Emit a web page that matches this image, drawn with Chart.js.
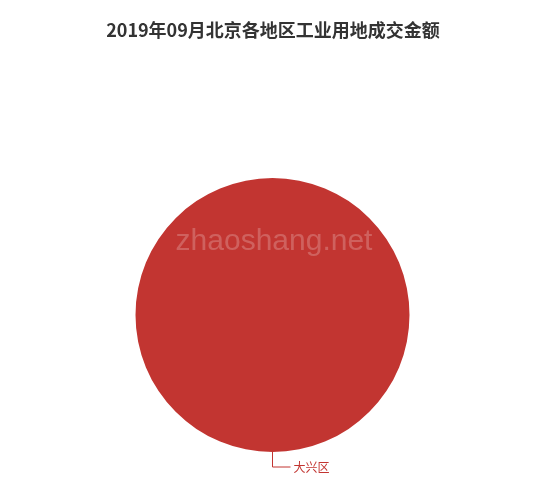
<!DOCTYPE html>
<html><head><meta charset="utf-8">
<script src="https://cdn.jsdelivr.net/npm/chart.js@4/dist/chart.umd.min.js"></script>
<style>html,body{margin:0;padding:0;background:#fff}#wrap{width:550px;height:490px}</style>
</head><body><div id="wrap"><canvas id="c" width="550" height="490"></canvas></div>
<script>
const titleText = "2019年09月北京各地区工业用地成交金额";
const categories = ["大兴区"];
const values = [100];
const colors = ["#c23531"];
const watermark = "zhaoshang.net";

const overlay = {
  id: 'overlay',
  afterDraw(chart) {
    const ctx = chart.ctx;
    ctx.save();
    // title
    ctx.fillStyle = '#333';
    ctx.font = 'bold 18px "Noto Sans CJK SC", sans-serif';
    ctx.textAlign = 'center';
    ctx.textBaseline = 'middle';
    ctx.fillText(titleText, 273, 30);
    // labels
    const meta = chart.getDatasetMeta(0);
    meta.data.forEach((arc, i) => {
      const p = arc.getProps(['x','y','startAngle','endAngle','outerRadius'], true);
      const mid = (p.startAngle + p.endAngle) / 2;
      const x0 = p.x + Math.cos(mid) * p.outerRadius;
      const y0 = p.y + Math.sin(mid) * p.outerRadius;
      const x1 = x0 + Math.cos(mid) * 15;
      const y1 = y0 + Math.sin(mid) * 15;
      const dir = Math.cos(mid) >= -1e-6 ? 1 : -1;
      const x2 = x1 + dir * 18;
      ctx.strokeStyle = colors[i];
      ctx.lineWidth = 1;
      ctx.beginPath();
      ctx.moveTo(x0, y0); ctx.lineTo(x1, y1); ctx.lineTo(x2, y1);
      ctx.stroke();
      ctx.fillStyle = colors[i];
      ctx.font = '12px "Noto Sans CJK SC", sans-serif';
      ctx.textAlign = dir > 0 ? 'left' : 'right';
      ctx.textBaseline = 'middle';
      ctx.fillText(categories[i], x2 + dir * 3, y1);
    });
    // watermark
    ctx.fillStyle = 'rgba(255,255,255,0.22)';
    ctx.font = '30px "Liberation Sans", Arial, sans-serif';
    ctx.textAlign = 'center';
    ctx.textBaseline = 'middle';
    ctx.fillText(watermark, 274, 242);
    ctx.restore();
  }
};

new Chart(document.getElementById('c'), {
  type: 'pie',
  data: { labels: categories, datasets: [{ data: values, backgroundColor: colors, borderWidth: 0 }] },
  options: {
    responsive: false,
    animation: false,
    layout: { padding: { left: 135, right: 140, top: 178, bottom: 38 } },
    plugins: { legend: { display: false }, tooltip: { enabled: false }, title: { display: false } }
  },
  plugins: [overlay]
});
</script></body></html>
